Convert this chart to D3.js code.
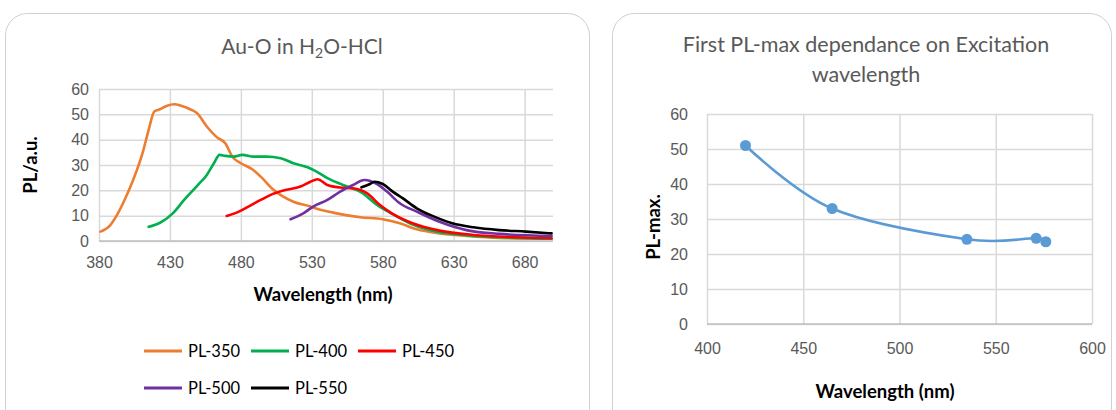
<!DOCTYPE html>
<html>
<head>
<meta charset="utf-8">
<script src="https://cdn.jsdelivr.net/npm/d3@7"></script>
<style>
  body { margin: 0; background: #fff; }
  svg { font-family: Lato, "Open Sans", sans-serif; }
  .grid line { stroke: #d9d9d9; stroke-width: 1.5; }
  .grid path { display: none; }
  .tick-label text { fill: #595959; }
  .tick-label path, .tick-label line { display: none; }
</style>
</head>
<body>
<svg id="chart" width="1116" height="410"></svg>
<script>
// Left chart: PL spectra, [wavelength nm, PL a.u.]
const pl350 = [[381,3.7],[388,6.3],[392,9.6],[398,16.2],[404,24],[411,35.3],[415,43.9],[419,51.1],[423,52],[428,53.4],[433,54],[438,53.4],[445,51.8],[449,50.5],[456,45.2],[463,41],[469,38.6],[474,33.3],[480,30.7],[488,28.3],[494,25.4],[503,20.2],[517,15.5],[528,13.8],[536,12.3],[545,11.2],[564,9.4],[580,8.6],[592,7],[604,4.6],[620,3],[639,2],[662,1.2],[699,0.9]];
const pl400 = [[415,5.6],[423,7.2],[432,10.9],[440,16.2],[449,21.7],[456,26.1],[461,30.7],[465,34],[469,33.6],[475,33.3],[481,34],[489,33.3],[498,33.3],[508,32.7],[517,30.7],[527,29.1],[532,27.8],[541,24.8],[552,22.1],[566,18.8],[576,14.2],[585,11.2],[599,7],[615,4.1],[634,2.5],[662,1.5],[699,0.9]];
const pl450 = [[470,9.9],[477,11.2],[486,13.8],[494,16.2],[501,18.2],[510,19.9],[522,21.5],[529,23.4],[534,24.4],[541,22.1],[550,21.1],[559,20.8],[569,18.8],[578,14.2],[587,10.7],[601,7],[620,4.1],[644,2.4],[674,1.5],[699,1.1]];
const pl500 = [[515,8.6],[524,10.9],[531,13.6],[541,16.2],[550,19.5],[559,22.1],[567,24.1],[576,22.5],[583,19.5],[592,14.9],[604,11.6],[620,7.6],[639,4.3],[662,2.8],[699,2]];
const pl550 = [[565,21.2],[571,22.5],[574,23.4],[580,22.5],[587,19.5],[594,16.9],[604,12.9],[615,9.9],[629,7],[644,5.4],[662,4.3],[681,3.7],[699,3]];
const seriesNames = ["PL-350", "PL-400", "PL-450", "PL-500", "PL-550"];
const seriesColors = ["#ed7d31", "#00b050", "#ff0000", "#7030a0", "#000000"];
const leftXTicks = [380, 430, 480, 530, 580, 630, 680];
const leftYTicks = [0, 10, 20, 30, 40, 50, 60];

// Right chart: first PL maximum vs excitation wavelength
const exWave = [420, 465, 535, 571, 576];
const plMax = [51, 33, 24.2, 24.5, 23.5];
const rightXTicks = [400, 450, 500, 550, 600];
const rightYTicks = [0, 10, 20, 30, 40, 50, 60];

const svg = d3.select("#chart");

// Panels
svg.append("rect").attr("x", 5.5).attr("y", 13.5).attr("width", 584).attr("height", 420)
    .attr("rx", 22).attr("fill", "#fff").attr("stroke", "#d0d0d0");
svg.append("rect").attr("x", 612.5).attr("y", 13.5).attr("width", 499).attr("height", 420)
    .attr("rx", 22).attr("fill", "#fff").attr("stroke", "#d0d0d0");

// ---------- Left chart ----------
const L = {left: 99, right: 553, top: 89, bottom: 241};
const xL = d3.scaleLinear().domain([380, 700]).range([L.left, L.right]);
const yL = d3.scaleLinear().domain([0, 60]).range([L.bottom, L.top]);

// grid
svg.append("g").attr("class", "grid")
    .attr("transform", `translate(${L.left},0)`)
    .call(d3.axisLeft(yL).tickValues(leftYTicks).tickSize(-(L.right - L.left)).tickFormat(""));
svg.append("g").attr("class", "grid")
    .attr("transform", `translate(0,${L.bottom})`)
    .call(d3.axisBottom(xL).tickValues(leftXTicks).tickSize(-(L.bottom - L.top)).tickFormat(""));
svg.append("line").attr("x1", L.left).attr("x2", L.right).attr("y1", L.bottom).attr("y2", L.bottom)
    .attr("stroke", "#bfbfbf").attr("stroke-width", 1.5);

// tick labels
svg.append("g").attr("class", "tick-label")
    .attr("transform", `translate(${L.left - 10},0)`)
    .call(d3.axisLeft(yL).tickValues(leftYTicks).tickSize(0).tickPadding(0))
    .selectAll("text").style("font-size", "16px");
svg.append("g").attr("class", "tick-label")
    .attr("transform", `translate(0,${L.bottom + 16})`)
    .call(d3.axisBottom(xL).tickValues(leftXTicks).tickSize(0).tickPadding(0))
    .selectAll("text").style("font-size", "16px");

// lines
const lineL = d3.line().x(d => xL(d[0])).y(d => yL(d[1])).curve(d3.curveMonotoneX);
[pl350, pl400, pl450, pl500, pl550].forEach((s, i) => {
  svg.append("path").datum(s).attr("d", lineL)
      .attr("fill", "none").attr("stroke", seriesColors[i])
      .attr("stroke-width", 2.6).attr("stroke-linejoin", "round").attr("stroke-linecap", "round");
});

// titles
const tL = svg.append("text").attr("x", 302).attr("y", 54).attr("text-anchor", "middle")
    .style("font-size", "21px").style("fill", "#595959");
tL.append("tspan").text("Au-O in H");
tL.append("tspan").attr("dy", 4).style("font-size", "14px").text("2");
tL.append("tspan").attr("dy", -4).text("O-HCl");

svg.append("text").attr("x", 323).attr("y", 301).attr("text-anchor", "middle")
    .style("font-size", "18.5px").style("font-weight", "bold").style("fill", "#000")
    .text("Wavelength (nm)");
svg.append("text").attr("transform", "translate(37,165) rotate(-90)").attr("text-anchor", "middle")
    .style("font-size", "18.5px").style("font-weight", "bold").style("fill", "#000")
    .text("PL/a.u.");

// legend
seriesNames.forEach((name, i) => {
  const col = i % 3, row = Math.floor(i / 3);
  const lx = 144 + col * 107, ly = 351 + row * 37;
  svg.append("line").attr("x1", lx).attr("x2", lx + 38).attr("y1", ly).attr("y2", ly)
      .attr("stroke", seriesColors[i]).attr("stroke-width", 3.2);
  svg.append("text").attr("x", lx + 44).attr("y", ly).attr("dy", "0.35em")
      .style("font-size", "16.5px").style("fill", "#000").text(name);
});

// ---------- Right chart ----------
const R = {left: 707, right: 1092, top: 114, bottom: 324};
const xR = d3.scaleLinear().domain([400, 600]).range([R.left, R.right]);
const yR = d3.scaleLinear().domain([0, 60]).range([R.bottom, R.top]);

svg.append("g").attr("class", "grid")
    .attr("transform", `translate(${R.left},0)`)
    .call(d3.axisLeft(yR).tickValues(rightYTicks).tickSize(-(R.right - R.left)).tickFormat(""));
svg.append("g").attr("class", "grid")
    .attr("transform", `translate(0,${R.bottom})`)
    .call(d3.axisBottom(xR).tickValues(rightXTicks).tickSize(-(R.bottom - R.top)).tickFormat(""));
svg.append("line").attr("x1", R.left).attr("x2", R.right).attr("y1", R.bottom).attr("y2", R.bottom)
    .attr("stroke", "#bfbfbf").attr("stroke-width", 1.5);

svg.append("g").attr("class", "tick-label")
    .attr("transform", `translate(${R.left - 19},0)`)
    .call(d3.axisLeft(yR).tickValues(rightYTicks).tickSize(0).tickPadding(0))
    .selectAll("text").style("font-size", "16px");
svg.append("g").attr("class", "tick-label")
    .attr("transform", `translate(0,${R.bottom + 19})`)
    .call(d3.axisBottom(xR).tickValues(rightXTicks).tickSize(0).tickPadding(0))
    .selectAll("text").style("font-size", "16px");

const rData = exWave.map((w, i) => [w, plMax[i]]);
const lineR = d3.line().x(d => xR(d[0])).y(d => yR(d[1])).curve(d3.curveCardinal.tension(0));
svg.append("path").datum(rData).attr("d", lineR)
    .attr("fill", "none").attr("stroke", "#5b9bd5").attr("stroke-width", 2.6);
svg.selectAll(".pt").data(rData).join("circle")
    .attr("cx", d => xR(d[0])).attr("cy", d => yR(d[1])).attr("r", 5.5)
    .attr("fill", "#5b9bd5");

svg.append("text").attr("x", 866).attr("y", 52).attr("text-anchor", "middle")
    .style("font-size", "21.5px").style("fill", "#595959")
    .text("First PL-max dependance on Excitation");
svg.append("text").attr("x", 866).attr("y", 82).attr("text-anchor", "middle")
    .style("font-size", "21.5px").style("fill", "#595959")
    .text("wavelength");
svg.append("text").attr("x", 885).attr("y", 398).attr("text-anchor", "middle")
    .style("font-size", "18.5px").style("font-weight", "bold").style("fill", "#000")
    .text("Wavelength (nm)");
svg.append("text").attr("transform", "translate(660,227) rotate(-90)").attr("text-anchor", "middle")
    .style("font-size", "18.5px").style("font-weight", "bold").style("fill", "#000")
    .text("PL-max.");
</script>
</body>
</html>
